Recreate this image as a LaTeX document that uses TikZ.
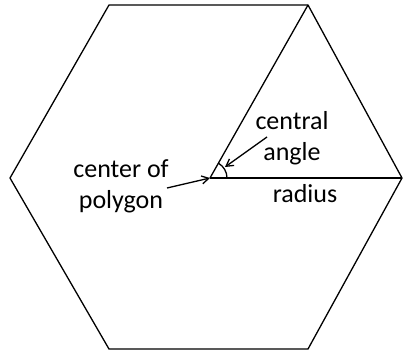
\documentclass[tikz,border=0pt]{standalone}
\usepackage{fontspec}
\setmainfont{Carlito}
\usetikzlibrary{arrows.meta}
\tikzset{
  >={Straight Barb[length=7pt,width=8pt]},
  lbl/.style={align=center,inner sep=0pt,font=\fontsize{26}{31}\selectfont},
  every picture/.style={line width=1.3pt},
}
\begin{document}
\begin{tikzpicture}[x=1pt,y=-1pt]
\useasboundingbox (0,0) rectangle (403,353);
\coordinate (A) at (109,5); \coordinate (B) at (308,5); \coordinate (C) at (402,178);
\coordinate (D) at (308,349); \coordinate (E) at (109,349); \coordinate (F) at (10,178);
\coordinate (O) at (210,178);
\draw (A)--(B)--(C)--(D)--(E)--(F)--cycle;
\draw (O)--(B); \draw (O)--(C);
\draw (227,178) arc[start angle=0,end angle=-60.5,radius=17];
\node[lbl] (ang) at (292,138){central\\angle};
\node[lbl] (ctr) at (121,186){center of\\polygon};
\node[lbl] (rad) at (305,194){radius};
\coordinate (ta) at (267,137); \coordinate (ha) at (225,167);
\coordinate (tc) at (167,188);
\draw[->] (ta)--(ha); \draw[->] (tc)--(O);
\end{tikzpicture}
\end{document}
